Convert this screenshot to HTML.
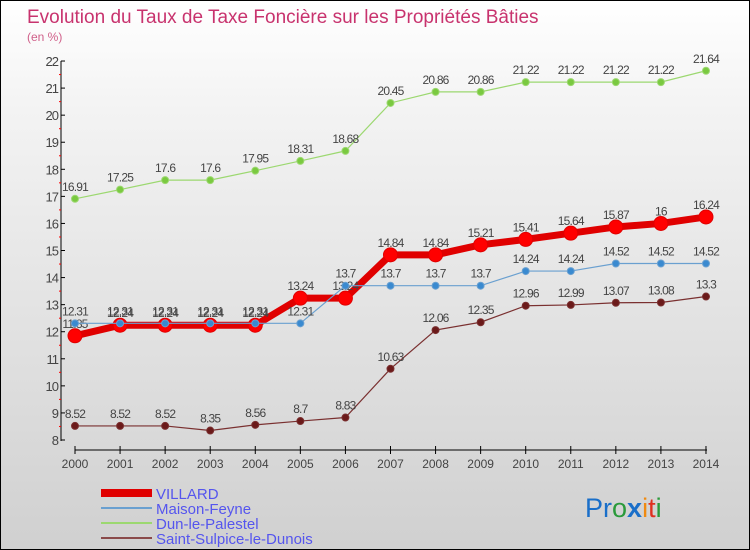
<!DOCTYPE html>
<html><head><meta charset="utf-8"><style>
body{margin:0;}
#c{position:relative;width:748px;height:548px;border:1px solid #000;background:linear-gradient(#fff,#f3f3f3 20%,#d0d0d0);font-family:"Liberation Sans",sans-serif;overflow:hidden}
</style></head><body>
<div id="c">
<svg id="s" width="748" height="548">
<text x="26" y="22" font-size="19" fill="#c8336e">Evolution du Taux de Taxe Foncière sur les Propriétés Bâties</text>
<text x="26" y="40" font-size="12" fill="#d0608a">(en %)</text>
<g id="axes"></g><g id="series"></g><g id="legend"></g>
<text x="584" y="516" font-size="27"><tspan fill="#1a6fc9">Pr</tspan><tspan fill="#2a9a3a">o</tspan><tspan fill="#1a6fc9" font-weight="bold">x</tspan><tspan fill="#f08a10">i</tspan><tspan fill="#e03020">t</tspan><tspan fill="#2a9a3a">i</tspan></text>
</svg></div>
<script>
const years=[2000,2001,2002,2003,2004,2005,2006,2007,2008,2009,2010,2011,2012,2013,2014];
const yTicks=[8,9,10,11,12,13,14,15,16,17,18,19,20,21,22];
const villard=[11.85,12.24,12.24,12.24,12.24,13.24,13.24,14.84,14.84,15.21,15.41,15.64,15.87,16,16.24];
const maison=[12.31,12.31,12.31,12.31,12.31,12.31,13.7,13.7,13.7,13.7,14.24,14.24,14.52,14.52,14.52];
const dun=[16.91,17.25,17.6,17.6,17.95,18.31,18.68,20.45,20.86,20.86,21.22,21.22,21.22,21.22,21.64];
const saint=[8.52,8.52,8.52,8.35,8.56,8.7,8.83,10.63,12.06,12.35,12.96,12.99,13.07,13.08,13.3];
const names=["VILLARD","Maison-Feyne","Dun-le-Palestel","Saint-Sulpice-le-Dunois"];
const NS="http://www.w3.org/2000/svg";
const X=i=>74+i*45.07, Y=v=>439-(v-8)*27.07;
function mk(p,t,a){const e=document.createElementNS(NS,t);for(const k in a)e.setAttribute(k,a[k]);p.appendChild(e);return e;}
const ax=document.getElementById('axes');
let e=mk(ax,'line',{x1:60,y1:60,x2:60,y2:440,stroke:'#000'});

e=mk(ax,'line',{x1:74,y1:449,x2:706,y2:449,stroke:'#000'});

yTicks.forEach(v=>{mk(ax,'line',{x1:60,y1:Y(v),x2:64,y2:Y(v),stroke:'#000'});
 if(v<22)mk(ax,'line',{x1:58,y1:Y(v+0.5),x2:60,y2:Y(v+0.5),stroke:'#f00'});
 const t=mk(ax,'text',{x:57,y:Y(v)+5,'font-size':13,fill:'#444','text-anchor':'end','letter-spacing':'-1'});t.textContent=v;
 });
years.forEach((y,i)=>{mk(ax,'line',{x1:X(i),y1:445,x2:X(i),y2:453,stroke:'#000'});
 const t=mk(ax,'text',{x:X(i),y:467,'font-size':12,fill:'#444','text-anchor':'middle'});t.textContent=y;
 });
const sg=document.getElementById('series');
function series(d,col,w,r,mcol,nm){
 const g=mk(sg,'g',{});
 mk(g,'polyline',{points:d.map((v,i)=>X(i)+','+Y(v)).join(' '),fill:'none',stroke:col,'stroke-width':w});
 d.forEach((v,i)=>{const c=mk(g,'circle',{cx:X(i),cy:Y(v),r:r,fill:mcol,stroke:col,'stroke-width':1});
  
  const t=mk(g,'text',{x:X(i),y:Y(v)-8,'font-size':12,fill:'#444','text-anchor':'middle','letter-spacing':'-0.8'});t.textContent=v;});
}
series(saint,'#7a3030',1.2,3.5,'#6b1a1a','series-saint-sulpice');
series(dun,'#9cd870',1.2,3.5,'#7ac940','series-dun-le-palestel');
series(villard,'#e00000',7,7,'#f00','series-villard');
series(maison,'#6aa0d0',1.2,3.5,'#3a8ad0','series-maison-feyne');
const lg=document.getElementById('legend');
const lc=['#e00000','#6aa0d0','#9cd870','#8a4a4a'],lw=[8,2,2,2];
names.forEach((n,i)=>{const y=492+i*15;
 const g=mk(lg,'g',{});
 mk(g,'line',{x1:100,y1:y,x2:151,y2:y,stroke:lc[i],'stroke-width':lw[i]});
 const t=mk(g,'text',{x:155,y:y+6,'font-size':15,fill:'#5555ee'});t.textContent=n;});
</script>
</body></html>
